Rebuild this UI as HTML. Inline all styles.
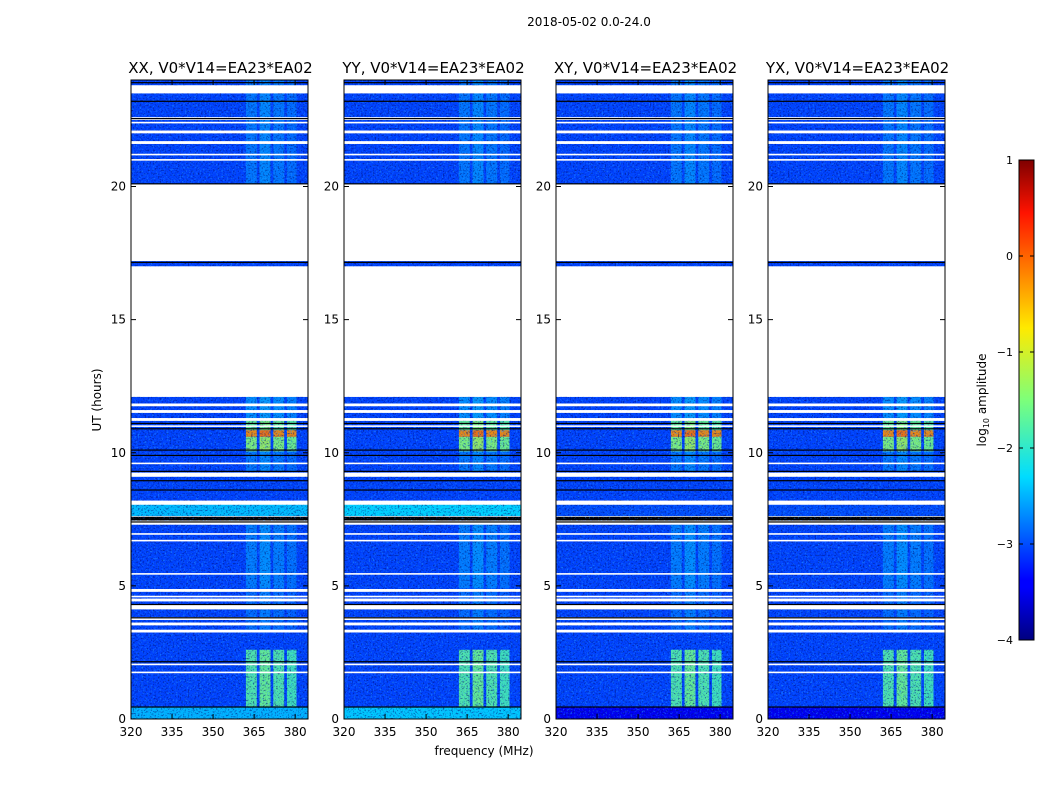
<!DOCTYPE html>
<html><head><meta charset="utf-8">
<style>
body{margin:0;background:#fff;font-family:"DejaVu Sans","Liberation Sans",sans-serif;}
svg text{font-family:"DejaVu Sans","Liberation Sans",sans-serif;}
</style></head>
<body>
<svg id="fig" width="1050" height="800" xmlns="http://www.w3.org/2000/svg">
<defs>
<filter id="noise" x="0" y="0" width="100%" height="100%" color-interpolation-filters="sRGB">
<feTurbulence type="fractalNoise" baseFrequency="0.55" numOctaves="2" seed="3"/>
<feColorMatrix type="matrix" values="0 0 0 0 0.15  0 0 0 0 0.6  0 0 0 0 1  4 0 0 0 -2.2"/>
</filter>
<filter id="noise2" x="0" y="0" width="100%" height="100%" color-interpolation-filters="sRGB">
<feTurbulence type="fractalNoise" baseFrequency="0.6" numOctaves="2" seed="11"/>
<feColorMatrix type="matrix" values="0 0 0 0 0  0 0 0 0 0.05  0 0 0 0 0.45  -4 0 0 0 1.9"/>
</filter>
<linearGradient id="jet" x1="0" y1="1" x2="0" y2="0">
<stop offset="0" stop-color="#00007f"/><stop offset="0.11" stop-color="#0000ff"/>
<stop offset="0.125" stop-color="#0000ff"/><stop offset="0.34" stop-color="#00dcff"/>
<stop offset="0.5" stop-color="#7dff7a"/><stop offset="0.65" stop-color="#ffea00"/>
<stop offset="0.89" stop-color="#ff1300"/><stop offset="1" stop-color="#7f0000"/>
</linearGradient>
</defs>
<text x="589" y="26" font-size="12" text-anchor="middle">2018-05-02 0.0-24.0</text>
<text x="484" y="755" font-size="12" text-anchor="middle">frequency (MHz)</text>
<text x="101" y="400" font-size="12" text-anchor="middle" transform="rotate(-90 101 400)">UT (hours)</text>
<g id="panels"></g>
<g id="cbar"></g>
</svg>
<script>
// ---- data ----
const panelTitles = ["XX, V0*V14=EA23*EA02","YY, V0*V14=EA23*EA02","XY, V0*V14=EA23*EA02","YX, V0*V14=EA23*EA02"];
const xTicks = [320,335,350,365,380];
const yTicks = [0,5,10,15,20];
const segStart = [0,0.45,3.35,3.62,3.82,4.28,4.52,4.88,7.45,7.62,8.2,9.25,11.3,11.6,11.85,17.0,20.1,21.7,22.1,22.6,23.8];
const segEnd   = [0.45,3.25,3.52,3.72,4.12,4.42,4.78,7.3,7.6,8.05,9.1,11.2,11.5,11.75,12.1,17.2,21.6,22.0,22.5,23.5,24.0];
const lowBandLevel = [-2.5,-2.4,-3.5,-3.5];
const midBandLevel = [-2.45,-2.35,-3.0,-3.0];
const baseLevel = -3.05;
const colStart = [362,367,372,377];
const colEnd   = [366,371,376,380.5];
const regStart = [0.45,3.3,4.9,9.3,10.05,10.6,10.85,11.3,20.1];
const regEnd   = [2.6,4.8,7.3,10.05,10.6,10.85,11.2,12.1,24];
const regLevel = [-1.75,-2.7,-2.55,-2.6,-1.45,-0.25,-1.6,-2.4,-2.6];
const blackLines = [0.45,2.15,3.8,4.3,7.4,7.5,8.6,8.95,9.3,9.9,10.1,10.9,11.1,17.15,20.1,22.55,23.2,23.9];
const whiteLines = [1.75,2.05,4.6,5.45,6.7,6.95,9.6,11.0,21.0,21.2,22.4];
const cbTicks = [-4,-3,-2,-1,0,1];

function jet(v){
  const t=Math.max(0,Math.min(1,(v+4)/5));
  const st=[[0,0,0,127],[0.11,0,0,255],[0.125,0,0,255],[0.34,0,220,255],[0.5,125,255,122],[0.65,255,234,0],[0.89,255,19,0],[1,127,0,0]];
  for(let i=1;i<st.length;i++){ if(t<=st[i][0]){const a=st[i-1],b=st[i];const f=(t-a[0])/((b[0]-a[0])||1);
    return `rgb(${Math.round(a[1]+f*(b[1]-a[1]))},${Math.round(a[2]+f*(b[2]-a[2]))},${Math.round(a[3]+f*(b[3]-a[3]))})`;}}
  return "rgb(127,0,0)";
}
const NS="http://www.w3.org/2000/svg";
function mk(tag,attrs,parent){const e=document.createElementNS(NS,tag);for(const k in attrs)e.setAttribute(k,attrs[k]);parent.appendChild(e);return e;}
const panelLeft=[131,344,556,768], panelW=177, topY=80, botY=719;
const fMin=320, fMax=384.7;
const G=document.getElementById('panels');
panelTitles.forEach((title,p)=>{
  const x0=panelLeft[p];
  const xs=f=>x0+(f-fMin)/(fMax-fMin)*panelW;
  const ys=h=>botY-h/24*(botY-topY);
  const g=mk('g',{},G);
  
  
  segStart.forEach((s,i)=>{
    let lv=baseLevel; if(i===0)lv=lowBandLevel[p]; if(i===9)lv=midBandLevel[p];
    const r=mk('rect',{x:x0,y:ys(segEnd[i]),width:panelW,height:ys(s)-ys(segEnd[i]),fill:i===8?'#000':jet(lv)},g);
    
    
    if(i===8||(i===0&&p>=2)) return;
    regStart.forEach((rs,j)=>{
      const a=Math.max(rs,s), b=Math.min(regEnd[j],segEnd[i]); if(b<=a) return;
      colStart.forEach((cs,k)=>{
        let lv2=regLevel[j]+(k===1?0.15:0)-(k===3&&regLevel[j]<-1?0.1:0);
        const c=mk('rect',{x:xs(cs),y:ys(b),width:xs(colEnd[k])-xs(cs),height:ys(a)-ys(b),fill:jet(lv2),opacity:lv2>-2.2?0.9:0.55},g);
        
        
      });
    });
  });
  const nz=mk('rect',{x:x0,y:topY,width:panelW,height:botY-topY,filter:'url(#noise)',opacity:0.6},g);
  
  
  const nz2=mk('rect',{x:x0,y:topY,width:panelW,height:botY-topY,filter:'url(#noise2)',opacity:0.6},g);
  
  
  let prev=0;
  const gapsS=[],gapsE=[];
  segStart.forEach((s,i)=>{ if(s>prev+0.01){gapsS.push(prev);gapsE.push(s);} prev=segEnd[i]; });
  gapsS.forEach((a,i)=>{const w=mk('rect',{x:x0,y:ys(gapsE[i]),width:panelW,height:ys(a)-ys(gapsE[i]),fill:'#fff'},g);
    
    });
  whiteLines.forEach(h=>{const l=mk('rect',{x:x0,y:ys(h)-0.8,width:panelW,height:1.6,fill:'#fff'},g);
    
    });
  blackLines.forEach(h=>{const l=mk('rect',{x:x0,y:ys(h)-0.6,width:panelW,height:1.2,fill:'#000'},g);
    
    });
  const fr=mk('rect',{x:x0,y:topY,width:panelW,height:botY-topY,fill:'none',stroke:'#000','stroke-width':1},g);
  
  
  const t=mk('text',{x:x0+panelW/2+1,y:topY-7,'font-size':15,'text-anchor':'middle'},g); t.textContent=title;
  
  
  xTicks.forEach(v=>{const x=xs(v);
    mk('line',{x1:x,x2:x,y1:botY,y2:botY-5,stroke:'#000'},g);
    mk('line',{x1:x,x2:x,y1:topY,y2:topY+5,stroke:'#000'},g);
    const tx=mk('text',{x:x,y:botY+17,'font-size':12,'text-anchor':'middle'},g); tx.textContent=v;
    
    });
  yTicks.forEach(v=>{const y=ys(v);
    mk('line',{x1:x0,x2:x0+5,y1:y,y2:y,stroke:'#000'},g);
    mk('line',{x1:x0+panelW,x2:x0+panelW-5,y1:y,y2:y,stroke:'#000'},g);
    const ty=mk('text',{x:x0-5,y:y+4,'font-size':12,'text-anchor':'end'},g); ty.textContent=v;
    
    });
});
const C=document.getElementById('cbar');
const cb=mk('rect',{x:1019,y:160,width:15,height:480,fill:'url(#jet)',stroke:'#000','stroke-width':1},C);


const cy=v=>640-(v+4)/5*480;
cbTicks.forEach(v=>{
  mk('line',{x1:1019,x2:1023,y1:cy(v),y2:cy(v),stroke:'#000'},C);
  mk('line',{x1:1034,x2:1030,y1:cy(v),y2:cy(v),stroke:'#000'},C);
  const t=mk('text',{x:1013,y:cy(v)+4,'font-size':11,'text-anchor':'end'},C); t.textContent=(v<0?'\u2212':'')+Math.abs(v);
  
  
});
const cl=mk('text',{x:986,y:400,'font-size':12,'text-anchor':'middle',transform:'rotate(-90 986 400)'},C);
cl.innerHTML='log<tspan font-size="8" dy="3">10</tspan><tspan dy="-3"> amplitude</tspan>';


</script>
</body></html>
